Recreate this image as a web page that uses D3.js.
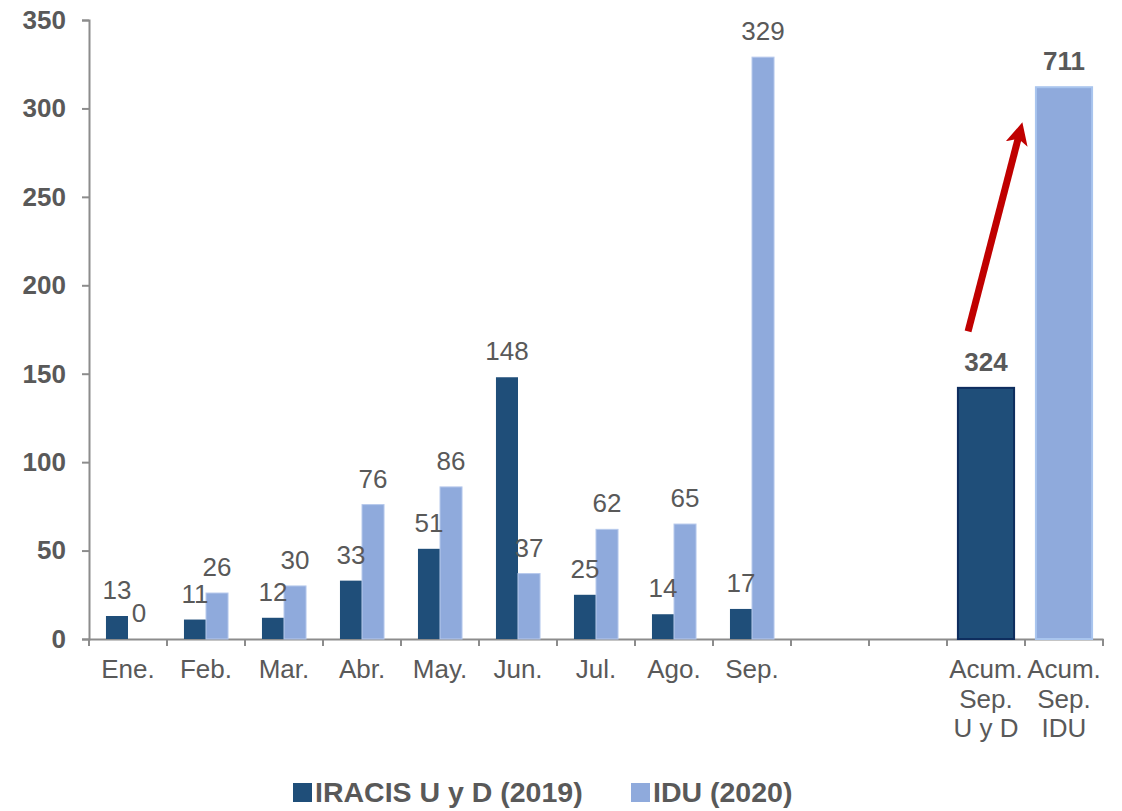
<!DOCTYPE html>
<html>
<head>
<meta charset="utf-8">
<script src="https://cdn.jsdelivr.net/npm/d3@7"></script>
<style>
  body { margin: 0; background: #fff; }
  svg { display: block; font-family: "Liberation Sans", Arial, sans-serif; }
</style>
</head>
<body>
<div id="chart"></div>
<script>
// categories on the x axis (two empty slots before the accumulated bars)
const categories = ['Ene.', 'Feb.', 'Mar.', 'Abr.', 'May.', 'Jun.', 'Jul.', 'Ago.', 'Sep.', '', '', 'Acum.|Sep.|U y D', 'Acum.|Sep.|IDU']

// monthly values
const iracis2019 = [13, 11, 12, 33, 51, 148, 25, 14, 17]
const idu2020 = [0, 26, 30, 76, 86, 37, 62, 65, 329]

// accumulated: labels as printed, heights as drawn in the original (not to scale)
const acumLabels = [324, 711]
const acumHeights = [142, 312]

const yTicks = [0, 50, 100, 150, 200, 250, 300, 350]
const seriesNames = ['IRACIS U y D (2019)', 'IDU (2020)']

const dark = '#1f4e79'
const light = '#8faadc'
const textCol = '#595959'
const axisCol = '#8c8c8c'

const width = 1122
const height = 811
const margin = { top: 20, right: 19, bottom: 172, left: 89 }

const svg = d3.select('#chart')
  .append('svg')
  .attr('width', width)
  .attr('height', height)

const keys = categories.map((c, i) => i)
const x = d3.scaleBand()
  .domain(keys)
  .range([margin.left, width - margin.right])

const y = d3.scaleLinear()
  .domain([0, 350])
  .range([height - margin.bottom, margin.top])

const sub = d3.scaleBand()
  .domain([0, 1])
  .range([0, x.bandwidth()])
  .paddingOuter(0.77)

// y axis
const yAxis = svg.append('g')
  .attr('transform', `translate(${margin.left},0)`)
  .call(d3.axisLeft(y).tickValues(yTicks).tickSize(7).tickPadding(16))
yAxis.select('.domain').attr('stroke', axisCol).attr('stroke-width', 2)
yAxis.selectAll('.tick line').attr('stroke', axisCol).attr('stroke-width', 2)
yAxis.selectAll('.tick text')
  .attr('fill', textCol)
  .style('font-size', '26px')
  .style('font-weight', 'bold')

// x axis
const xAxis = svg.append('g')
  .attr('transform', `translate(0,${y(0)})`)
  .call(d3.axisBottom(x).tickSize(0).tickFormat(''))
xAxis.select('.domain').attr('stroke', axisCol).attr('stroke-width', 2)

// tick marks between categories
svg.append('g')
  .selectAll('line')
  .data(keys.concat([categories.length]))
  .join('line')
  .attr('x1', d => d < categories.length ? x(d) : x(d - 1) + x.bandwidth())
  .attr('x2', d => d < categories.length ? x(d) : x(d - 1) + x.bandwidth())
  .attr('y1', y(0))
  .attr('y2', y(0) + 7)
  .attr('stroke', axisCol)
  .attr('stroke-width', 2)

// category labels
const catLabels = svg.append('g')
  .selectAll('text')
  .data(categories)
  .join('text')
  .attr('x', (d, i) => x(i) + x.bandwidth() / 2)
  .attr('y', y(0) + 39)
  .attr('text-anchor', 'middle')
  .attr('fill', textCol)
  .style('font-size', '26px')
catLabels.each(function (d) {
  const t = d3.select(this)
  d.split('|').forEach((line, j) => {
    t.append('tspan')
      .attr('x', t.attr('x'))
      .attr('dy', j === 0 ? 0 : 29.5)
      .text(line)
  })
})

// monthly bars
const monthG = svg.append('g')
monthG.selectAll('.bar19')
  .data(iracis2019)
  .join('rect')
  .attr('class', 'bar19')
  .attr('x', (d, i) => x(i) + sub(0))
  .attr('y', d => y(d))
  .attr('width', sub.bandwidth())
  .attr('height', d => y(0) - y(d))
  .attr('fill', dark)

monthG.selectAll('.bar20')
  .data(idu2020)
  .join('rect')
  .attr('class', 'bar20')
  .attr('x', (d, i) => x(i) + sub(1))
  .attr('y', d => y(d))
  .attr('width', sub.bandwidth())
  .attr('height', d => y(0) - y(d))
  .attr('fill', light)
  .attr('stroke', d => d > 0 ? '#b7c9ec' : 'none')
  .attr('stroke-width', 1)

// monthly labels
monthG.selectAll('.lab19')
  .data(iracis2019)
  .join('text')
  .attr('x', (d, i) => x(i) + sub(0) + sub.bandwidth() / 2)
  .attr('y', d => y(d) - 17)
  .attr('text-anchor', 'middle')
  .attr('fill', textCol)
  .style('font-size', '26px')
  .text(d => d)

monthG.selectAll('.lab20')
  .data(idu2020)
  .join('text')
  .attr('x', (d, i) => x(i) + sub(1) + sub.bandwidth() / 2)
  .attr('y', d => y(d) - 17)
  .attr('text-anchor', 'middle')
  .attr('fill', textCol)
  .style('font-size', '26px')
  .text(d => d)

// accumulated bars
const acumW = x.bandwidth() * 0.72
const acumKeys = [11, 12]
const acumG = svg.append('g')
acumG.selectAll('rect')
  .data(acumHeights)
  .join('rect')
  .attr('x', (d, i) => x(acumKeys[i]) + (x.bandwidth() - acumW) / 2)
  .attr('y', d => y(d))
  .attr('width', acumW)
  .attr('height', d => y(0) - y(d))
  .attr('fill', (d, i) => i === 0 ? dark : light)
  .attr('stroke', (d, i) => i === 0 ? '#0e2d5e' : '#a9c5ee')
  .attr('stroke-width', 2)

acumG.selectAll('text')
  .data(acumHeights)
  .join('text')
  .attr('x', (d, i) => x(acumKeys[i]) + x.bandwidth() / 2)
  .attr('y', d => y(d) - 17)
  .attr('text-anchor', 'middle')
  .attr('fill', textCol)
  .style('font-size', '26px')
  .style('font-weight', 'bold')
  .text((d, i) => acumLabels[i])

// red growth arrow
const defs = svg.append('defs')
defs.append('marker')
  .attr('id', 'head')
  .attr('viewBox', '0 0 10 10')
  .attr('refX', 5)
  .attr('refY', 5)
  .attr('markerWidth', 3.2)
  .attr('markerHeight', 3.2)
  .attr('markerUnits', 'strokeWidth')
  .attr('orient', 'auto')
  .append('path')
  .attr('d', 'M0,0 L10,5 L0,10 L2.5,5 Z')
  .attr('fill', '#c00000')

const x1 = x(11) + x.bandwidth() * 0.27
const y1 = y(174)
const x2 = x(12) - x.bandwidth() * 0.07
const y2 = y(286)
svg.append('line')
  .attr('x1', x1)
  .attr('y1', y1)
  .attr('x2', x2)
  .attr('y2', y2)
  .attr('stroke', '#c00000')
  .attr('stroke-width', 7)
  .attr('marker-end', 'url(#head)')

// legend
const legend = svg.append('g')
const legendX = [293, 631]
seriesNames.forEach((name, i) => {
  legend.append('rect')
    .attr('x', legendX[i])
    .attr('y', 783)
    .attr('width', 19)
    .attr('height', 19)
    .attr('fill', i === 0 ? dark : light)
  legend.append('text')
    .attr('x', legendX[i] + 22)
    .attr('y', 802)
    .attr('fill', textCol)
    .style('font-size', '28.5px')
    .style('font-weight', 'bold')
    .text(name)
})
</script>
</body>
</html>
